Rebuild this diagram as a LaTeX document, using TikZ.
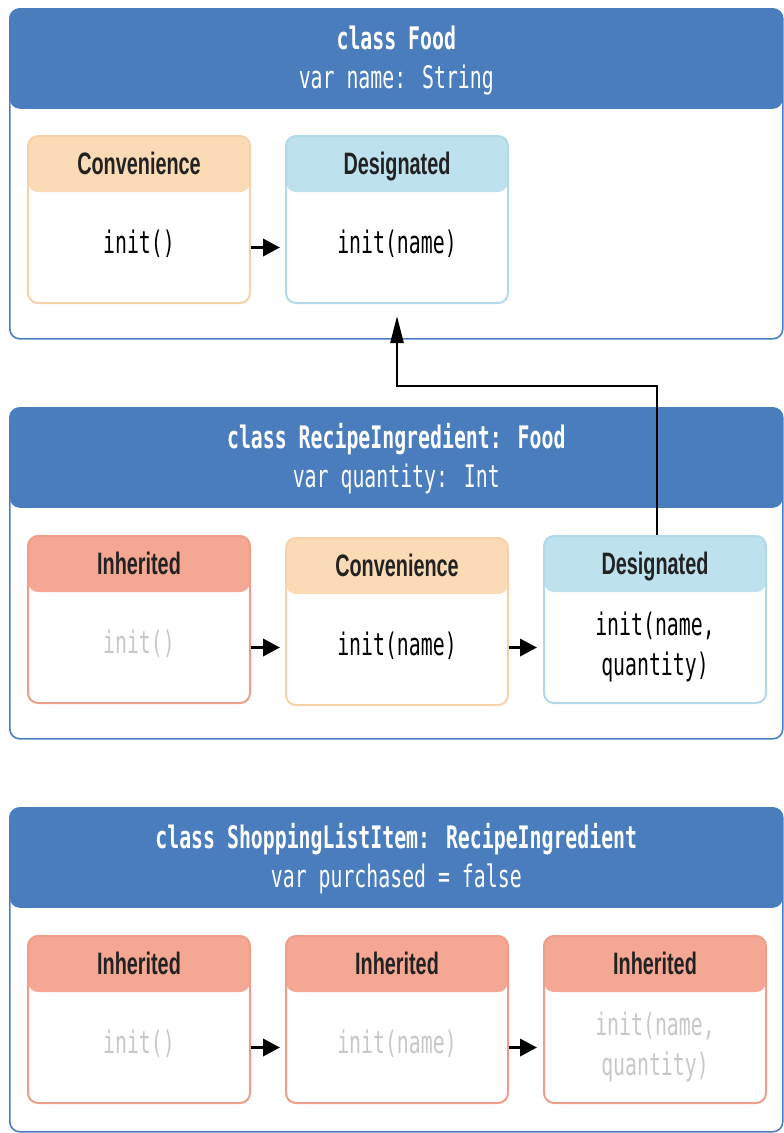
\documentclass[tikz,border=0pt]{standalone}
\usepackage{fontspec}
\usetikzlibrary{arrows.meta,calc}
\newfontfamily\codefont[FakeStretch=0.64]{DejaVu Sans Mono}
\newfontfamily\labfont[FakeStretch=0.64]{Liberation Sans}
\definecolor{hblue}{HTML}{4A7DBE}
\definecolor{peachF}{HTML}{FBDAB6}
\definecolor{peachB}{HTML}{F6D2AA}
\definecolor{cyanF}{HTML}{BEE1EE}
\definecolor{cyanB}{HTML}{B2D9E7}
\definecolor{salmF}{HTML}{F4A793}
\definecolor{salmB}{HTML}{EE9E89}
\definecolor{greyT}{HTML}{C8C8C8}
\definecolor{darkT}{HTML}{222222}
\begin{document}
\begin{tikzpicture}[x=1pt,y=-1pt,
  panel/.style={draw=hblue, line width=1.6pt, rounded corners=10pt, fill=white,
    minimum width=773pt, minimum height=#1, inner sep=0pt, anchor=north west,
    path picture={\fill[hblue] (path picture bounding box.north west) rectangle ([yshift=-100pt]path picture bounding box.north east);}},
  ibox/.style n args={2}{draw=#2, line width=2pt, rounded corners=10pt, fill=white,
    minimum width=222pt, minimum height=167pt, inner sep=0pt, anchor=north west,
    path picture={\fill[#1] (path picture bounding box.north west) rectangle ([yshift=-56pt]path picture bounding box.north east);}},
  conv/.style={ibox={peachF}{peachB}},
  desig/.style={ibox={cyanF}{cyanB}},
  inher/.style={ibox={salmF}{salmB}},
  ptitle/.style={text=white, font=\codefont\bfseries\fontsize{31}{40}\selectfont, inner sep=0pt, anchor=base},
  psub/.style={text=white, font=\codefont\fontsize{31}{40}\selectfont, inner sep=0pt, anchor=base},
  hlab/.style={text=darkT, font=\labfont\bfseries\fontsize{31}{34}\selectfont, inner sep=0pt, anchor=base},
  code/.style={text=black, font=\codefont\fontsize{31}{40}\selectfont, inner sep=0pt, align=center, anchor=base},
  code2/.style={code, anchor=center},
  gcode/.style={code, text=greyT},
  gcode2/.style={code2, text=greyT},
  arr/.style={-{Triangle[length=17pt,width=17pt]}, line width=3.5pt, black},
  uparr/.style={-{Triangle[length=27pt,width=13pt]}, line width=2.5pt, black}
]
\useasboundingbox (0,0) rectangle (784,1133);

% panels
\node[panel=330pt] (p1) at (9,8) {};
\node[panel=331pt] (p2) at (9,407) {};
\node[panel=324pt] (p3) at (9,807) {};

\node[ptitle] at ([yshift=-41pt]p1.north) {class Food};
\node[psub]   at ([yshift=-80pt]p1.north) {var name: String};
\node[ptitle] at ([yshift=-41pt]p2.north) {class RecipeIngredient: Food};
\node[psub]   at ([yshift=-80pt]p2.north) {var quantity: Int};
\node[ptitle] at ([yshift=-41pt]p3.north) {class ShoppingListItem: RecipeIngredient};
\node[psub]   at ([yshift=-80pt]p3.north) {var purchased = false};

% panel 1 boxes
\node[conv]  (c1) at (27,135) {};
\node[desig] (d1) at (285,135) {};
\node[hlab] at ([yshift=-39pt]c1.north) {Convenience};
\node[hlab] at ([yshift=-39pt]d1.north) {Designated};
\node[code] at ([yshift=-118pt]c1.north) {init()};
\node[code] at ([yshift=-118pt]d1.north) {init(name)};

% panel 2 boxes
\node[inher] (i2) at (27,535) {};
\node[conv]  (c2) at (285,537) {};
\node[desig] (d2) at (543,535) {};
\node[hlab] at ([yshift=-39pt]i2.north) {Inherited};
\node[hlab] at ([yshift=-39pt]c2.north) {Convenience};
\node[hlab] at ([yshift=-39pt]d2.north) {Designated};
\node[gcode] at ([yshift=-118pt]i2.north) {init()};
\node[code]  at ([yshift=-118pt]c2.north) {init(name)};
\node[code2] at ([yshift=-27pt]d2.center) {init(name,\\quantity)};

% panel 3 boxes
\node[inher] (ia) at (27,935) {};
\node[inher] (ib) at (285,935) {};
\node[inher] (ic) at (543,935) {};
\node[hlab] at ([yshift=-39pt]ia.north) {Inherited};
\node[hlab] at ([yshift=-39pt]ib.north) {Inherited};
\node[hlab] at ([yshift=-39pt]ic.north) {Inherited};
\node[gcode] at ([yshift=-118pt]ia.north) {init()};
\node[gcode] at ([yshift=-118pt]ib.north) {init(name)};
\node[gcode2] at ([yshift=-27pt]ic.center) {init(name,\\quantity)};

% connectors
\draw[arr] ([yshift=-28pt]c1.east) -- ([yshift=-28pt,xshift=-5pt]d1.west);
\draw[arr] ([yshift=-28pt]i2.east) -- ([yshift=-26pt,xshift=-5pt]c2.west);
\draw[arr] ([yshift=-26pt]c2.east) -- ([yshift=-28pt,xshift=-6pt]d2.west);
\draw[arr] ([yshift=-28pt]ia.east) -- ([yshift=-28pt,xshift=-5pt]ib.west);
\draw[arr] ([yshift=-28pt]ib.east) -- ([yshift=-28pt,xshift=-6pt]ic.west);
\draw[uparr] ([xshift=2pt]d2.north) -- ([xshift=2pt]d2.north |- 0,386) -| ([yshift=-12pt]d1.south);
\end{tikzpicture}
\end{document}
